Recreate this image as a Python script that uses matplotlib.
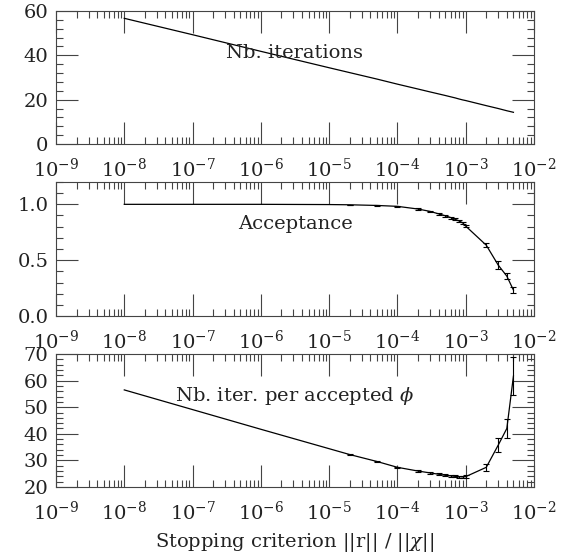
import matplotlib
matplotlib.use('Agg')
import matplotlib.pyplot as plt
from matplotlib.ticker import LogLocator, MultipleLocator, FormatStrFormatter, NullFormatter

plt.rcParams['font.family'] = 'DejaVu Serif'
plt.rcParams['mathtext.fontset'] = 'dejavuserif'
plt.rcParams['font.size'] = 14

# stopping criterion values (x) shared by the three panels
stopping = [1e-8, 1e-7, 1e-6, 1e-5, 2e-5, 5e-5, 1e-4, 2e-4, 3e-4, 4e-4,
            5e-4, 6e-4, 7e-4, 8e-4, 9e-4, 1e-3, 2e-3, 3e-3, 4e-3, 5e-3]

n_iter = [56.7, 49.3, 41.8, 34.4, 32.2, 29.3, 27.0, 24.8, 23.5, 22.6,
          21.9, 21.3, 20.8, 20.3, 19.9, 19.6, 17.3, 16.0, 15.0, 14.3]

acceptance = [1.0, 1.0, 1.0, 0.998, 0.996, 0.99, 0.982, 0.958, 0.937, 0.915,
              0.898, 0.882, 0.866, 0.851, 0.835, 0.805, 0.634, 0.455, 0.357, 0.232]
acceptance_err = [0.0, 0.0, 0.0, 0.0, 0.002, 0.003, 0.004, 0.006, 0.007, 0.008,
                  0.008, 0.009, 0.009, 0.01, 0.01, 0.012, 0.02, 0.035, 0.025, 0.028]

iter_per_acc = [56.5, 49.1, 41.7, 34.4, 32.2, 29.6, 27.4, 26.0, 25.3, 24.8,
                24.4, 24.2, 24.0, 23.9, 23.8, 23.9, 27.4, 35.8, 42.0, 61.7]
iter_per_acc_err = [0.0, 0.0, 0.0, 0.0, 0.1, 0.15, 0.2, 0.25, 0.3, 0.3,
                    0.35, 0.35, 0.4, 0.4, 0.45, 0.5, 1.2, 2.5, 3.4, 7.2]

labels = ['Nb. iterations', 'Acceptance', r'Nb. iter. per accepted $\phi$']

W, H = 569, 559
fig = plt.figure(figsize=(W / 100, H / 100), dpi=100)

left, right = 56, 534
panel_rows = [(11, 144), (182, 316), (354, 487)]  # top, bottom in pixels

axes = []
for top, bottom in panel_rows:
    ax = fig.add_axes([left / W, 1 - bottom / H, (right - left) / W, (bottom - top) / H])
    axes.append(ax)

def setup(ax, ymin, ymax, major, minor, fmt):
    ax.set_xscale('log')
    ax.set_xlim(1e-9, 1e-2)
    ax.set_ylim(ymin, ymax)
    ax.xaxis.set_major_locator(LogLocator(base=10, numticks=20))
    ax.xaxis.set_minor_locator(LogLocator(base=10, subs=range(2, 10), numticks=20))
    ax.xaxis.set_minor_formatter(NullFormatter())
    ax.yaxis.set_major_locator(MultipleLocator(major))
    ax.yaxis.set_minor_locator(MultipleLocator(minor))
    ax.yaxis.set_major_formatter(FormatStrFormatter(fmt))
    ax.tick_params(which='both', direction='in', top=True, right=True, color='#444444', width=0.8)
    ax.tick_params(which='major', length=15.8)
    ax.tick_params(which='minor', length=5)
    ax.tick_params(axis='x', which='major', pad=10, labelsize=14, labelcolor='#222222')
    ax.tick_params(axis='y', which='major', pad=5.5, labelsize=14, labelcolor='#222222')
    for s in ax.spines.values():
        s.set_color('#444444')
        s.set_linewidth(0.8)

def with_errors(y, err):
    # only the points that carry a visible error bar
    keep = [i for i, e in enumerate(err) if e > 0]
    return [stopping[i] for i in keep], [y[i] for i in keep], [err[i] for i in keep]

ax1, ax2, ax3 = axes

ax1.plot(stopping, n_iter, color='black', lw=0.9)
setup(ax1, 0, 60, 20, 4, '%d')

ax2.plot(stopping, acceptance, color='black', lw=0.9)
ex, ey, ee = with_errors(acceptance, acceptance_err)
ax2.errorbar(ex, ey, yerr=ee, fmt='none', ecolor='black', elinewidth=0.8, capsize=2.2, capthick=0.8)
setup(ax2, 0, 1.2, 0.5, 0.1, '%.1f')

ax3.plot(stopping, iter_per_acc, color='black', lw=0.9)
ex, ey, ee = with_errors(iter_per_acc, iter_per_acc_err)
ax3.errorbar(ex, ey, yerr=ee, fmt='none', ecolor='black', elinewidth=0.8, capsize=2.2, capthick=0.8)
setup(ax3, 20, 70, 10, 2, '%d')

for ax, lab in zip(axes, labels):
    ax.text(0.5, 0.65, lab, transform=ax.transAxes, ha='center', va='baseline',
            fontsize=14, color='#222222')

fig.text(0.5 * (left + right) / W, 12 / H, r'Stopping criterion ||r|| / ||$\chi$||',
         ha='center', va='baseline', fontsize=14, color='#222222')

fig.savefig('out.png', dpi=100)
